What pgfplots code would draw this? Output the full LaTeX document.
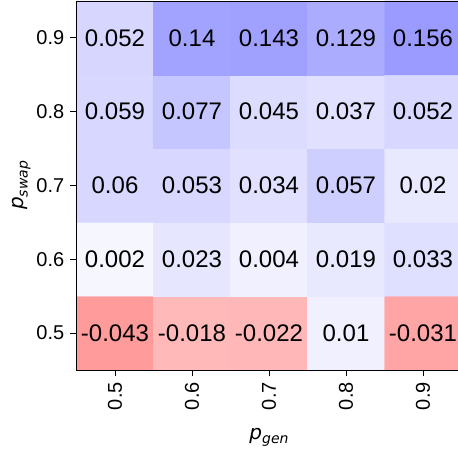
\documentclass[border=0pt]{standalone}
\usepackage{pgfplots}
\usepackage{pgfplotstable}
\pgfplotsset{compat=1.18}
\usepackage{fontspec}
\setmainfont{Liberation Sans}
\newfontfamily\dvs{DejaVu Sans}

% x, y: cell indices; v: printed value; c: colour shade
\pgfplotstableread{
x y v c
0 0 -0.043 -0.98
1 0 -0.018 -0.69
2 0 -0.022 -0.71
3 0 0.01 0.15
4 0 -0.031 -0.88
0 1 0.002 0.09
1 1 0.023 0.245
2 1 0.004 0.15
3 1 0.019 0.225
4 1 0.033 0.31
0 2 0.06 0.39
1 2 0.053 0.39
2 2 0.034 0.29
3 2 0.057 0.47
4 2 0.02 0.225
0 3 0.059 0.39
1 3 0.077 0.57
2 3 0.045 0.34
3 3 0.037 0.29
4 3 0.052 0.39
0 4 0.052 0.40
1 4 0.14 0.91
2 4 0.143 0.93
3 4 0.129 0.81
4 4 0.156 0.98
}\data

\begin{document}
\begin{tikzpicture}
\begin{axis}[
  name=ax,
  scale only axis,
  width=385pt, height=369pt,
  xmin=-0.5, xmax=4.5, ymin=-0.5, ymax=4.5,
  axis on top,
  axis line style={black, line width=0.9pt},
  colormap={bwrs}{rgb255(0pt)=(255,153,153); rgb255(1pt)=(255,255,255); rgb255(2pt)=(153,153,255)},
  point meta min=-1, point meta max=1,
  xtick={0,1,2,3,4}, xticklabels={0.5,0.6,0.7,0.8,0.9},
  ytick={0,1,2,3,4}, yticklabels={0.5,0.6,0.7,0.8,0.9},
  tick align=outside, tick pos=left,
  major tick length=6pt,
  tick style={black, line width=0.9pt},
  xticklabel style={rotate=90, anchor=east, font=\fontsize{20}{24}\selectfont, inner sep=1pt},
  yticklabel style={font=\fontsize{20}{24}\selectfont, inner sep=1pt},
  xticklabel shift=5pt,
  yticklabel shift=5pt,
  xlabel={\dvs\fontsize{20}{24}\selectfont\itshape p\raisebox{-0.35ex}{\fontsize{14}{16}\selectfont gen}},
  ylabel={\dvs\fontsize{20}{24}\selectfont\itshape p\raisebox{-0.35ex}{\fontsize{14}{16}\selectfont swap}},
  every axis x label/.style={at={(rel axis cs:0.5,0)}, anchor=center, yshift=-67pt},
  every axis y label/.style={at={(rel axis cs:0,0.5)}, rotate=90, anchor=center, yshift=55pt},
]
\addplot[matrix plot*, mesh/cols=5, point meta=explicit] table[x=x, y=y, meta=c] {\data};
\addplot[only marks, mark=none, nodes near coords, point meta=explicit symbolic,
  every node near coord/.append style={anchor=center, font=\fontsize{24}{28}\selectfont, text=black, inner sep=0pt}]
  table[x=x, y=y, meta=v] {\data};
\end{axis}
\pgfresetboundingbox
\path ([shift={(-76.5pt,-85pt)}]ax.south west) rectangle ([shift={(-3.5pt,1pt)}]ax.north east);
\end{tikzpicture}
\end{document}
